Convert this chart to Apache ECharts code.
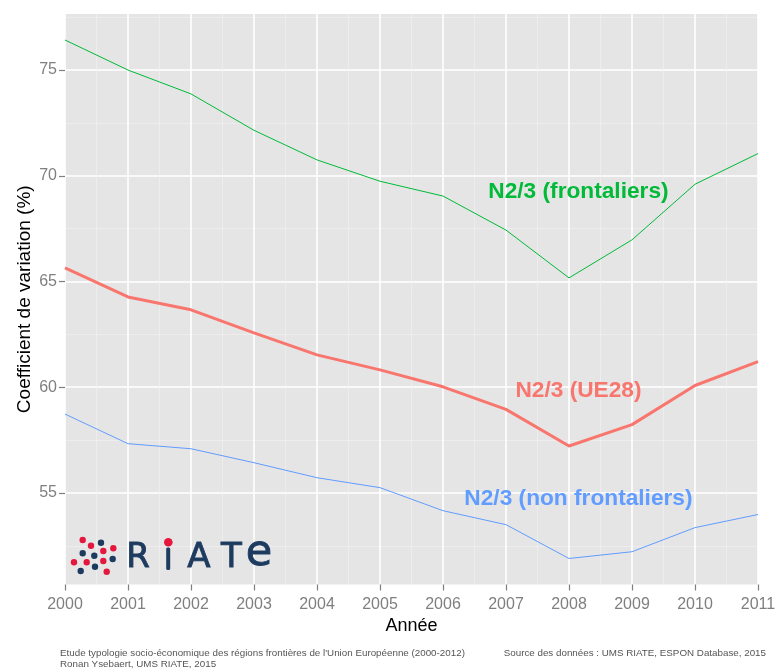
<!DOCTYPE html>
<html>
<head>
<meta charset="utf-8">
<script src="https://cdn.jsdelivr.net/npm/echarts@6/dist/echarts.min.js"></script>
<style>
  html, body { margin: 0; padding: 0; background: #fff; }
  #chart { width: 775px; height: 669px; }
</style>
</head>
<body>
<div id="chart"></div>
<script>
// années et valeurs
var years = [2000, 2001, 2002, 2003, 2004, 2005, 2006, 2007, 2008, 2009, 2010, 2011];
var frontaliers = [76.42, 75.0, 73.87, 72.15, 70.75, 69.74, 69.04, 67.43, 65.17, 66.97, 69.6, 71.05];
var ue28 = [65.64, 64.27, 63.66, 62.57, 61.53, 60.82, 60.02, 58.95, 57.22, 58.23, 60.08, 61.21];
var nonFrontaliers = [58.73, 57.33, 57.09, 56.43, 55.72, 55.25, 54.16, 53.5, 51.9, 52.22, 53.36, 53.98];

var yTicks = [55, 60, 65, 70, 75];
var yMinor = [52.5, 57.5, 62.5, 67.5, 72.5, 77.5];

// position des étiquettes (coordonnées des données)
var labelYear = 2008.15;
var labelFront = 69.24;
var labelUe = 59.84;
var labelNon = 54.72;

function pairs(vals) {
    return years.map(function (y, i) { return [y, vals[i]]; });
}

function label(text, x, y, color) {
    return {
        symbol: 'circle',
        symbolSize: 1,
        itemStyle: { color: 'transparent' },
        label: {
            show: true,
            position: 'inside',
            formatter: text,
            color: color,
            fontSize: 22.7,
            fontWeight: 'bold',
            fontFamily: 'Liberation Sans'
        },
        data: [{ coord: [x, y] }]
    };
}

var chart = echarts.init(document.getElementById('chart'));

var yMin = 50.67, yMax = 77.65;

// logo RIATE
var red = '#e4173e', navy = '#1d3b5f';
var dots = [
    [82.7, 540, red], [91, 545.7, red], [103.3, 551, red], [113.3, 548.3, red],
    [74, 562.3, red], [86.7, 562.3, red], [103.3, 561, red], [106.7, 571.7, red],
    [101, 542.7, navy], [82.7, 553.3, navy], [94.3, 555.7, navy], [112.7, 559, navy],
    [80.7, 571, navy], [95, 566.7, navy]
];
var logo = dots.map(function (d) {
    return { type: 'circle', shape: { cx: d[0], cy: d[1], r: 3.2 }, style: { fill: d[2] }, z: 10 };
});
logo.push({ type: 'circle', shape: { cx: 168.3, cy: 542.2, r: 4.3 }, style: { fill: red }, z: 10 });
logo.push({ type: 'rect', shape: { x: 166.2, y: 547.5, width: 4, height: 22.5, r: 1.5 }, style: { fill: navy }, z: 10 });
[['R', 138], ['A', 199], ['T', 231.5]].forEach(function (l) {
    logo.push({ type: 'text', x: l[1], y: 558, z: 10,
        style: { text: l[0], fill: navy, stroke: navy, lineWidth: 0.9, fontSize: 34, fontFamily: 'DejaVu Sans', align: 'center', verticalAlign: 'middle' } });
});
logo.push({ type: 'text', x: 259, y: 554, z: 10,
    style: { text: 'e', fill: navy, stroke: navy, lineWidth: 0.9, fontSize: 43, fontFamily: 'DejaVu Sans', align: 'center', verticalAlign: 'middle' } });

var footStyle = { fill: '#555', fontSize: 9.8, fontFamily: 'Liberation Sans' };

var option = {
    backgroundColor: '#ffffff',
    animation: false,
    grid: {
        left: 65, right: 17, top: 14, bottom: 84.5,
        outerBoundsMode: 'none',
        show: true, backgroundColor: '#e5e5e5', borderWidth: 0
    },
    xAxis: [{
        type: 'value',
        min: 2000,
        max: 2011,
        interval: 1,
        name: 'Année',
        nameLocation: 'middle',
        nameGap: 28,
        nameTextStyle: { color: '#000', fontSize: 18, fontFamily: 'Liberation Sans' },
        axisLine: { show: false },
        axisTick: { show: true, length: 6, lineStyle: { color: '#7f7f7f', width: 1.2 } },
        axisLabel: {
            color: '#7f7f7f', fontSize: 16, fontFamily: 'Liberation Sans', margin: 12,
            formatter: function (v) { return String(v); }
        },
        splitLine: { show: true, lineStyle: { color: '#ffffff', width: 1.6 } },
        minorTick: { show: false, splitNumber: 2 },
        minorSplitLine: { show: true, lineStyle: { color: '#f2f2f2', width: 0.6 } }
    }],
    yAxis: [{
        type: 'value',
        min: yMin,
        max: yMax,
        name: 'Coefficient de variation (%)',
        nameLocation: 'middle',
        nameGap: 31,
        nameMoveOverlap: false,
        nameTextStyle: { color: '#000', fontSize: 19, fontFamily: 'Liberation Sans' },
        axisLine: { show: false },
        axisTick: { show: true, length: 6, customValues: yTicks, lineStyle: { color: '#7f7f7f', width: 1.2 } },
        axisLabel: { color: '#7f7f7f', fontSize: 16, fontFamily: 'Liberation Sans', margin: 8, customValues: yTicks },
        splitLine: { show: true, lineStyle: { color: '#ffffff', width: 1.6 } }
    }, {
        type: 'value',
        min: yMin,
        max: yMax,
        position: 'left',
        axisLine: { show: false },
        axisTick: { show: false, customValues: yMinor },
        axisLabel: { show: false, customValues: yMinor },
        splitLine: { show: true, lineStyle: { color: '#f2f2f2', width: 0.6 } }
    }],
    series: [{
        name: 'N2/3 (frontaliers)',
        type: 'line',
        data: pairs(frontaliers),
        showSymbol: false,
        lineStyle: { color: '#00BA38', width: 1 },
        markPoint: label('N2/3 (frontaliers)', labelYear, labelFront, '#00BA38')
    }, {
        name: 'N2/3 (UE28)',
        type: 'line',
        data: pairs(ue28),
        showSymbol: false,
        lineStyle: { color: '#F8766D', width: 3 },
        markPoint: label('N2/3 (UE28)', labelYear, labelUe, '#F8766D')
    }, {
        name: 'N2/3 (non frontaliers)',
        type: 'line',
        data: pairs(nonFrontaliers),
        showSymbol: false,
        lineStyle: { color: '#619CFF', width: 1 },
        markPoint: label('N2/3 (non frontaliers)', labelYear, labelNon, '#619CFF')
    }],
    graphic: logo.concat([
        { type: 'text', left: 60, top: 648, style: Object.assign({ text: "Etude typologie socio-économique des régions frontières de l'Union Européenne (2000-2012)" }, footStyle) },
        { type: 'text', left: 60, top: 659, style: Object.assign({ text: 'Ronan Ysebaert, UMS RIATE, 2015' }, footStyle) },
        { type: 'text', right: 9, top: 648, style: Object.assign({ text: 'Source des données : UMS RIATE, ESPON Database, 2015' }, footStyle) }
    ])
};

chart.setOption(option);
</script>
</body>
</html>
